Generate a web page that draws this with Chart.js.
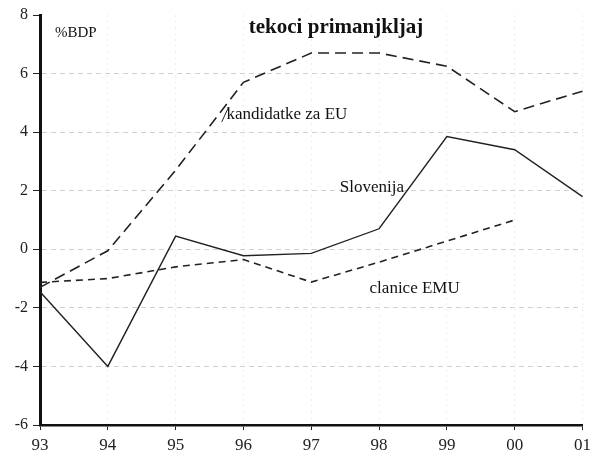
<!DOCTYPE html>
<html>
<head>
<meta charset="utf-8">
<script src="https://cdn.jsdelivr.net/npm/chart.js@4/dist/chart.umd.min.js"></script>
<style>
    html, body { margin: 0; padding: 0; background: #fff; }
    #wrap { width: 596px; height: 459px; }
</style>
</head>
<body>
<div id="wrap"><canvas id="deficitChart"></canvas></div>
<script>
// years on the x axis
const years = ['93', '94', '95', '96', '97', '98', '99', '00', '01'];

// current account deficit, % of GDP
const kandidatke = [-1.3, -0.05, 2.7, 5.7, 6.7, 6.7, 6.25, 4.7, 5.4];
const slovenija = [-1.45, -4.0, 0.45, -0.22, -0.14, 0.7, 3.85, 3.4, 1.8];
const clanice = [-1.13, -1.0, -0.6, -0.35, -1.12, -0.44, 0.28, 1.0, null];

const yTicks = [-6, -4, -2, 0, 2, 4, 6, 8];

const serif = '"Liberation Serif", "DejaVu Serif", serif';

// text drawn on top of the plot
const textLabels = {
    id: 'textLabels',
    afterDraw(chart) {
        const ctx = chart.ctx;
        const x = chart.scales.x;
        const y = chart.scales.y;
        ctx.save();
        ctx.fillStyle = '#111';
        ctx.textBaseline = 'middle';

        ctx.font = 'bold 21px ' + serif;
        ctx.textAlign = 'center';
        ctx.fillText('tekoci primanjkljaj', 336, 28);

        ctx.textAlign = 'left';
        ctx.font = '15px ' + serif;
        ctx.fillText('%BDP', 55, 33);

        ctx.font = '17px ' + serif;
        ctx.fillText('kandidatke za EU', x.getPixelForValue(2.75), y.getPixelForValue(4.6));
        ctx.fillText('Slovenija', x.getPixelForValue(4.42), y.getPixelForValue(2.1));
        ctx.fillText('clanice EMU', x.getPixelForValue(4.86), y.getPixelForValue(-1.35));

        // small leader stroke before the candidates label
        ctx.strokeStyle = '#222';
        ctx.lineWidth = 1;
        ctx.beginPath();
        ctx.moveTo(x.getPixelForValue(2.68), y.getPixelForValue(4.35));
        ctx.lineTo(x.getPixelForValue(2.78), y.getPixelForValue(4.85));
        ctx.stroke();
        ctx.restore();
    }
};

const ctx = document.getElementById('deficitChart').getContext('2d');
new Chart(ctx, {
    type: 'line',
    data: {
        labels: years,
        datasets: [
            {
                label: 'kandidatke za EU',
                data: kandidatke,
                borderColor: '#222',
                borderWidth: 1.6,
                borderDash: [11, 6],
                pointRadius: 0,
                tension: 0
            },
            {
                label: 'Slovenija',
                data: slovenija,
                borderColor: '#222',
                borderWidth: 1.4,
                pointRadius: 0,
                tension: 0
            },
            {
                label: 'clanice EMU',
                data: clanice,
                borderColor: '#222',
                borderWidth: 1.6,
                borderDash: [7, 5],
                pointRadius: 0,
                tension: 0
            }
        ]
    },
    options: {
        responsive: true,
        maintainAspectRatio: false,
        animation: false,
        layout: {
            padding: { top: 15, right: 12, left: 0, bottom: 0 }
        },
        plugins: {
            legend: { display: false },
            tooltip: { enabled: false }
        },
        scales: {
            x: {
                offset: false,
                afterFit: scale => { scale.height = 34; },
                grid: {
                    color: 'rgba(0,0,0,0.07)',
                    tickColor: '#222',
                    tickLength: 5,
                    tickBorderDash: []
                },
                border: { color: '#111', width: 2.5, dash: [2, 4] },
                ticks: {
                    color: '#222',
                    padding: 5,
                    maxRotation: 0,
                    font: { family: serif, size: 17 }
                }
            },
            y: {
                min: -6,
                max: 8,
                afterFit: scale => { scale.width = 40; },
                afterBuildTicks: scale => {
                    scale.ticks = yTicks.map(v => ({ value: v }));
                },
                grid: {
                    color: ctx => (ctx.tick && (ctx.tick.value === 8 || ctx.tick.value === -6))
                        ? 'rgba(0,0,0,0)' : 'rgba(0,0,0,0.18)',
                    tickColor: '#222',
                    tickLength: 7,
                    tickBorderDash: []
                },
                border: { color: '#111', width: 3, dash: [5, 4] },
                ticks: {
                    color: '#222',
                    padding: 5,
                    font: { family: serif, size: 16 }
                }
            }
        }
    },
    plugins: [textLabels]
});
</script>
</body>
</html>
